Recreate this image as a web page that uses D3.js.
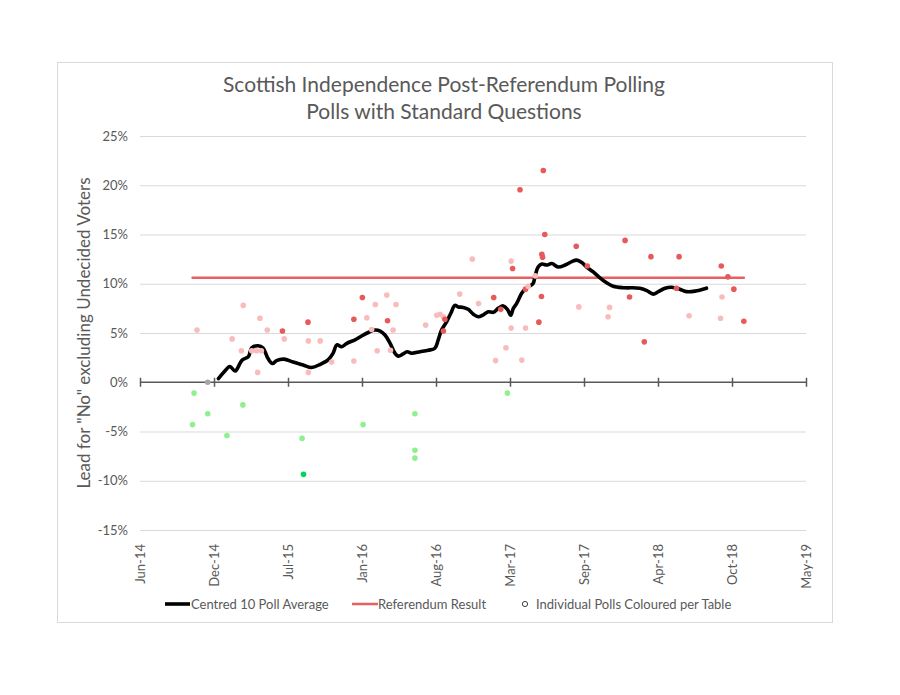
<!DOCTYPE html>
<html>
<head>
<meta charset="utf-8">
<script src="https://cdn.jsdelivr.net/npm/d3@7"></script>
<style>
  html, body { margin: 0; padding: 0; background: #ffffff; }
  svg { display: block; font-family: Lato, "Open Sans", sans-serif; }
</style>
</head>
<body>
<svg id="chart" width="900" height="695"></svg>
<script>
// ---------------- DATA ----------------
const titleLines = ["Scottish Independence Post-Referendum Polling", "Polls with Standard Questions"];
const yAxisTitle = "Lead for \"No\" excluding Undecided Voters";
const legendLabels = ["Centred 10 Poll Average", "Referendum Result", "Individual Polls Coloured per Table"];

const xTickDates = ["2014-06-10","2014-12-27","2015-07-15","2016-01-31","2016-08-18",
                    "2017-03-06","2017-09-22","2018-04-10","2018-10-27","2019-05-15"];
const yTickValues = [-15, -10, -5, 0, 5, 10, 15, 20, 25];

const referendumLead = 10.6;

// Individual polls
const pollDates = [
  "2014-10-30","2014-11-03","2014-11-11","2014-12-10","2014-12-10","2015-01-31","2015-02-14","2015-03-11",
  "2015-03-15","2015-03-16","2015-04-08","2015-04-21","2015-04-24","2015-04-30","2015-05-04","2015-05-20",
  "2015-06-30","2015-07-05","2015-08-22","2015-08-26","2015-09-07","2015-09-08","2015-09-08","2015-10-10",
  "2015-11-10","2016-01-09","2016-01-09","2016-02-01","2016-02-03","2016-02-13","2016-02-26","2016-03-07",
  "2016-03-12","2016-04-07","2016-04-09","2016-04-17","2016-04-24","2016-05-02","2016-06-22","2016-06-22",
  "2016-06-22","2016-07-21","2016-08-20","2016-08-29","2016-09-07","2016-09-11","2016-09-07","2016-10-21",
  "2016-11-24","2016-12-11","2017-01-21","2017-01-26","2017-02-09","2017-02-23","2017-02-27","2017-03-09",
  "2017-03-09","2017-03-13","2017-04-02","2017-04-07","2017-04-17","2017-04-17","2017-04-24","2017-05-13",
  "2017-05-23","2017-05-30","2017-05-31","2017-06-02","2017-06-04","2017-06-08","2017-09-01","2017-09-08",
  "2017-10-01","2017-11-26","2017-11-30","2018-01-11","2018-01-23","2018-03-04","2018-03-22","2018-05-30",
  "2018-06-06","2018-07-03","2018-09-26","2018-09-28","2018-09-30","2018-10-16","2018-11-01","2018-11-28"
];
const pollLeads = [
  -4.3, -1.1, 5.3, 0.0, -3.2, -5.4, 4.4, 3.2,
  -2.3, 7.8, 3.2, 3.2, 1.0, 6.5, 3.2, 5.3,
  5.2, 4.4, -5.7, -9.35, 6.1, 4.2, 1.0, 4.2,
  2.05, 2.15, 6.4, 8.6, -4.3, 6.55, 5.35, 7.9,
  3.2, 8.85, 6.25, 3.25, 5.3, 7.9, -3.2, -6.9,
  -7.7, 5.8, 6.8, 6.9, 6.65, 6.4, 5.2, 8.95,
  12.5, 8.0, 8.6, 2.2, 7.4, 3.5, -1.1, 12.3,
  5.5, 11.55, 19.55, 2.25, 5.5, 9.45, 9.75, 10.8,
  6.1, 8.7, 13.0, 12.7, 21.5, 15.0, 13.8, 7.65,
  11.8, 6.65, 7.6, 14.4, 8.65, 4.1, 12.75, 9.55,
  12.75, 6.75, 6.5, 11.8, 8.65, 10.7, 9.45, 6.2
];
const pollTables = [
  "G","G","P","N","G","G","P","P",
  "G","P","P","P","P","P","P","P",
  "R","P","G","D","R","P","P","P",
  "P","P","R","R","G","P","P","P",
  "P","P","R","P","P","P","G","G",
  "G","P","P","P","P","R","R","P",
  "P","P","R","P","R","P","G","P",
  "P","R","R","P","P","R","P","P",
  "R","R","R","R","R","R","R","P",
  "R","P","P","R","R","R","R","R",
  "R","P","P","R","P","R","R","R"
];
const tableKeys   = ["R", "P", "N", "G", "D"];
const tableColors = ["#E85A5A", "#F9BCBC", "#A6A6A6", "#8EF08E", "#00D45C"];

// Centred 10 poll average (traced)
const avgDates = [
  "2015-01-08","2015-01-23","2015-02-08","2015-02-22","2015-03-13","2015-03-30","2015-04-08","2015-04-25",
  "2015-05-08","2015-05-22","2015-06-03","2015-06-14","2015-07-04","2015-07-29","2015-08-25","2015-09-17",
  "2015-10-09","2015-11-01","2015-11-14","2015-11-24","2015-12-07","2015-12-21","2016-01-12","2016-01-30",
  "2016-02-20","2016-03-06","2016-03-20","2016-04-02","2016-04-16","2016-04-29","2016-05-08","2016-05-20",
  "2016-06-01","2016-06-13","2016-07-06","2016-07-28","2016-08-15","2016-08-24","2016-09-02","2016-09-16",
  "2016-09-27","2016-10-08","2016-10-17","2016-10-31","2016-11-13","2016-11-27","2016-12-10","2016-12-24",
  "2017-01-06","2017-01-20","2017-02-02","2017-02-16","2017-02-27","2017-03-08","2017-03-15","2017-03-24",
  "2017-04-07","2017-04-20","2017-05-07","2017-05-13","2017-05-21","2017-05-31","2017-06-13","2017-06-27",
  "2017-07-14","2017-08-02","2017-08-20","2017-09-02","2017-09-16","2017-09-29","2017-10-17","2017-11-04",
  "2017-11-22","2017-12-10","2018-01-06","2018-02-20","2018-03-11","2018-03-28","2018-04-11","2018-04-29",
  "2018-05-17","2018-06-08","2018-06-26","2018-07-19","2018-08-19"
];
const avgLeads = [
  0.38, 1.04, 1.6, 1.14, 2.25, 2.6, 3.5, 3.7,
  3.5, 2.4, 1.9, 2.2, 2.35, 2.05, 1.75, 1.5,
  1.8, 2.3, 2.95, 3.8, 3.6, 3.95, 4.3, 4.7,
  5.1, 5.3, 5.2, 4.8, 3.95, 2.95, 2.65, 2.85,
  3.1, 2.95, 3.1, 3.25, 3.45, 4.3, 5.3, 6.15,
  7.0, 7.8, 7.65, 7.6, 7.4, 6.9, 6.65, 6.85,
  7.15, 7.1, 7.5, 7.75, 7.4, 6.8, 7.5, 8.0,
  9.05, 9.6, 10.0, 10.8, 11.7, 12.0, 11.9, 12.05,
  11.7, 11.9, 12.25, 12.4, 12.15, 11.7, 11.2, 10.6,
  10.1, 9.75, 9.6, 9.55, 9.3, 8.95, 9.2, 9.55,
  9.65, 9.45, 9.2, 9.25, 9.55
];

// ---------------- CHART ----------------
const parse = d3.utcParse("%Y-%m-%d");
const fmtTick = d3.utcFormat("%b-%y");
const svg = d3.select("#chart");
const textColor = "#595959";

const plot = { left: 140, right: 806, top: 136, bottom: 530 };

const x = d3.scaleUtc()
  .domain([parse(xTickDates[0]), parse(xTickDates[xTickDates.length - 1])])
  .range([plot.left, plot.right]);
const y = d3.scaleLinear().domain([-15, 25]).range([plot.bottom, plot.top]);

// chart area border
svg.append("rect")
  .attr("x", 57.5).attr("y", 62.5).attr("width", 775).attr("height", 560)
  .attr("fill", "#fff").attr("stroke", "#D9D9D9").attr("stroke-width", 1);

// title
svg.append("g").selectAll("text").data(titleLines).join("text")
  .attr("x", 444).attr("y", (d, i) => 92 + i * 27)
  .attr("text-anchor", "middle")
  .attr("font-size", 21).attr("fill", textColor)
  .text(d => d);

// gridlines + y labels
const yAxis = d3.axisLeft(y)
  .tickValues(yTickValues)
  .tickSize(-(plot.right - plot.left))
  .tickPadding(12)
  .tickFormat(d => d + "%");
const gy = svg.append("g").attr("transform", `translate(${plot.left},0)`).call(yAxis);
gy.select(".domain").remove();
gy.selectAll(".tick line").attr("stroke", "#D9D9D9").attr("stroke-width", 1)
  .attr("display", d => d === 0 ? "none" : null);
gy.selectAll(".tick text").attr("fill", textColor).attr("font-size", 13)
  .attr("font-family", "Lato, sans-serif");

// y axis title
svg.append("text")
  .attr("transform", `translate(90,${(plot.top + plot.bottom) / 2}) rotate(-90)`)
  .attr("text-anchor", "middle")
  .attr("font-size", 17).attr("fill", textColor)
  .text(yAxisTitle);

// zero axis with crossing ticks
const xAxisZero = d3.axisBottom(x)
  .tickValues(xTickDates.map(parse))
  .tickSize(9)
  .tickFormat("");
const gx0 = svg.append("g").attr("transform", `translate(0,${y(0)})`).call(xAxisZero);
gx0.select(".domain").attr("stroke", "#595959").attr("stroke-width", 1.5)
  .attr("d", `M${plot.left},0H${plot.right}`);
gx0.selectAll(".tick line").attr("stroke", "#595959").attr("stroke-width", 1.5)
  .attr("y1", -4.5).attr("y2", 4.5);

// x tick labels at bottom (rotated)
const xAxisLabels = d3.axisBottom(x)
  .tickValues(xTickDates.map(parse))
  .tickSize(0)
  .tickFormat(d => fmtTick(d));
const gxl = svg.append("g").attr("transform", `translate(0,${plot.bottom})`).call(xAxisLabels);
gxl.select(".domain").remove();
gxl.selectAll(".tick text")
  .attr("fill", textColor).attr("font-size", 13).attr("font-family", "Lato, sans-serif")
  .attr("transform", "rotate(-90)")
  .attr("text-anchor", "end")
  .attr("x", -14).attr("y", 0).attr("dy", "0.35em");

// referendum result line (spans the poll period)
const pollExtent = d3.extent(pollDates.map(parse));
svg.append("line")
  .attr("x1", x(pollExtent[0]) - 1).attr("x2", x(pollExtent[1]) + 1)
  .attr("y1", y(referendumLead)).attr("y2", y(referendumLead))
  .attr("stroke", "#E8605F").attr("stroke-width", 2.5);

// average line
const avgData = avgDates.map((d, i) => ({ date: parse(d), v: avgLeads[i] }));
svg.append("path")
  .datum(avgData)
  .attr("fill", "none").attr("stroke", "#000").attr("stroke-width", 3.6)
  .attr("stroke-linejoin", "round").attr("stroke-linecap", "round")
  .attr("d", d3.line().x(d => x(d.date)).y(d => y(d.v)).curve(d3.curveCatmullRom.alpha(0.5)));

// polls
const color = d3.scaleOrdinal().domain(tableKeys).range(tableColors);
const polls = pollDates.map((d, i) => ({ date: parse(d), v: pollLeads[i], t: pollTables[i] }));
svg.append("g").selectAll("circle").data(polls).join("circle")
  .attr("cx", d => x(d.date)).attr("cy", d => y(d.v)).attr("r", 2.8)
  .attr("fill", d => color(d.t));

// legend
const lg = svg.append("g").attr("font-size", 13).attr("fill", textColor);
lg.append("line").attr("x1", 165).attr("x2", 190).attr("y1", 604).attr("y2", 604)
  .attr("stroke", "#000").attr("stroke-width", 3.6);
lg.append("text").attr("x", 191).attr("y", 604).attr("dy", "0.35em").text(legendLabels[0]);
lg.append("line").attr("x1", 352).attr("x2", 378).attr("y1", 604).attr("y2", 604)
  .attr("stroke", "#E8605F").attr("stroke-width", 2.5);
lg.append("text").attr("x", 378).attr("y", 604).attr("dy", "0.35em").text(legendLabels[1]);
lg.append("circle").attr("cx", 525).attr("cy", 604).attr("r", 2.6)
  .attr("fill", "none").attr("stroke", "#404040").attr("stroke-width", 1);
lg.append("text").attr("x", 536).attr("y", 604).attr("dy", "0.35em").text(legendLabels[2]);
</script>
</body>
</html>
